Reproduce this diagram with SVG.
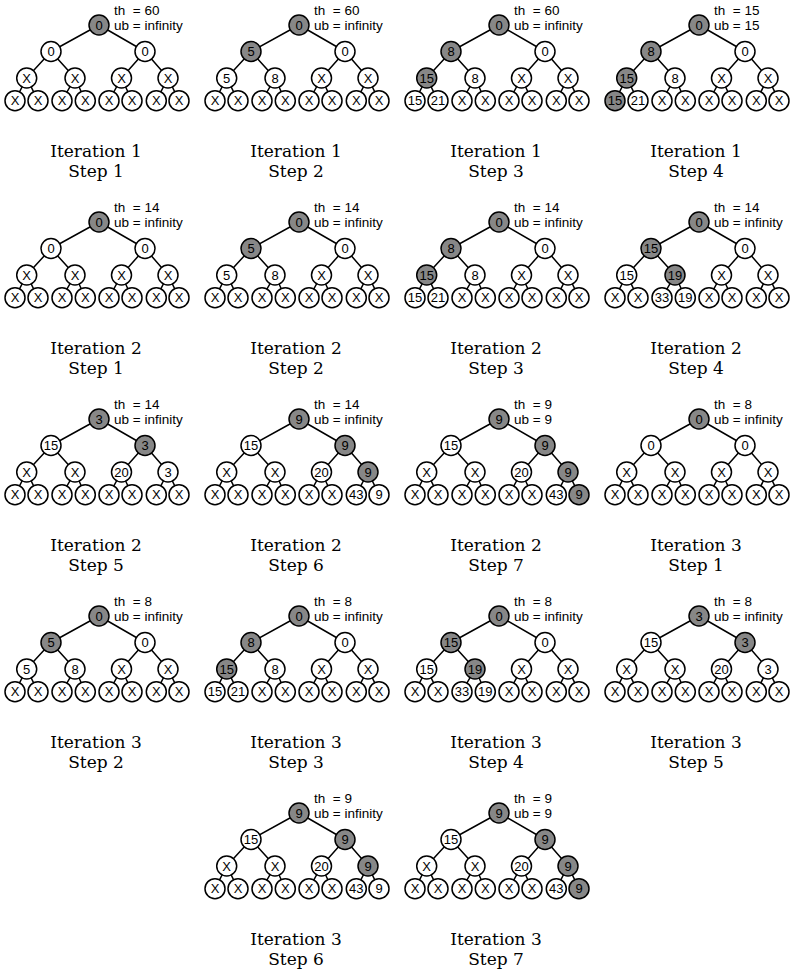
<svg xmlns="http://www.w3.org/2000/svg" xmlns:xlink="http://www.w3.org/1999/xlink" width="791" height="971" viewBox="0 0 791 971">
<style>
.e{stroke:#000;stroke-width:1.5;fill:none}
.n circle{fill:#fff;stroke:#000;stroke-width:1.5}
.g circle{fill:#878787}
.n text{font-family:'Liberation Sans',Arial,sans-serif;font-size:13px;text-anchor:middle;fill:#000}
.info{font-family:'Liberation Sans',Arial,sans-serif;font-size:13.5px;white-space:pre;fill:#000}
.cap{font-family:'DejaVu Serif',serif;font-size:17px;text-anchor:middle;fill:#000}
</style>
<defs>
<path id="edges" class="e" d="M99 25L51 51.5M99 25L145 51.5M51 51.5L26.7 78M51 51.5L75 78M145 51.5L121.5 78M145 51.5L168 78M26.7 78L15 100.7M26.7 78L38 100.7M75 78L62 100.7M75 78L85.3 100.7M121.5 78L109 100.7M121.5 78L132 100.7M168 78L156.3 100.7M168 78L179 100.7"/>
</defs>
<rect width="791" height="971" fill="#fff"/>
<g id="connectors">
<use xlink:href="#edges" transform="translate(0,0)"/>
<use xlink:href="#edges" transform="translate(200,0)"/>
<use xlink:href="#edges" transform="translate(400,0)"/>
<use xlink:href="#edges" transform="translate(600,0)"/>
<use xlink:href="#edges" transform="translate(0,197)"/>
<use xlink:href="#edges" transform="translate(200,197)"/>
<use xlink:href="#edges" transform="translate(400,197)"/>
<use xlink:href="#edges" transform="translate(600,197)"/>
<use xlink:href="#edges" transform="translate(0,394)"/>
<use xlink:href="#edges" transform="translate(200,394)"/>
<use xlink:href="#edges" transform="translate(400,394)"/>
<use xlink:href="#edges" transform="translate(600,394)"/>
<use xlink:href="#edges" transform="translate(0,591)"/>
<use xlink:href="#edges" transform="translate(200,591)"/>
<use xlink:href="#edges" transform="translate(400,591)"/>
<use xlink:href="#edges" transform="translate(600,591)"/>
<use xlink:href="#edges" transform="translate(200,788)"/>
<use xlink:href="#edges" transform="translate(400,788)"/>
</g>

<!-- Panel 1: Iteration 1 Step 1 -->
<g id="p1" transform="translate(0,0)">
<text class="info" x="114" y="14.5">th  = 60</text>
<text class="info" x="114" y="29.5">ub = infinity</text>
<g id="p1-n0" class="n g"><circle cx="99" cy="25" r="10"/><text x="99" y="29.6">0</text></g>
<g id="p1-n1" class="n"><circle cx="51" cy="51.5" r="10"/><text x="51" y="56.1">0</text></g>
<g id="p1-n2" class="n"><circle cx="145" cy="51.5" r="10"/><text x="145" y="56.1">0</text></g>
<g id="p1-n3" class="n"><circle cx="26.7" cy="78" r="10"/><text x="26.7" y="82.6">X</text></g>
<g id="p1-n4" class="n"><circle cx="75" cy="78" r="10"/><text x="75" y="82.6">X</text></g>
<g id="p1-n5" class="n"><circle cx="121.5" cy="78" r="10"/><text x="121.5" y="82.6">X</text></g>
<g id="p1-n6" class="n"><circle cx="168" cy="78" r="10"/><text x="168" y="82.6">X</text></g>
<g id="p1-l0" class="n"><circle cx="15" cy="100.7" r="10"/><text x="15" y="105.3">X</text></g>
<g id="p1-l1" class="n"><circle cx="38" cy="100.7" r="10"/><text x="38" y="105.3">X</text></g>
<g id="p1-l2" class="n"><circle cx="62" cy="100.7" r="10"/><text x="62" y="105.3">X</text></g>
<g id="p1-l3" class="n"><circle cx="85.3" cy="100.7" r="10"/><text x="85.3" y="105.3">X</text></g>
<g id="p1-l4" class="n"><circle cx="109" cy="100.7" r="10"/><text x="109" y="105.3">X</text></g>
<g id="p1-l5" class="n"><circle cx="132" cy="100.7" r="10"/><text x="132" y="105.3">X</text></g>
<g id="p1-l6" class="n"><circle cx="156.3" cy="100.7" r="10"/><text x="156.3" y="105.3">X</text></g>
<g id="p1-l7" class="n"><circle cx="179" cy="100.7" r="10"/><text x="179" y="105.3">X</text></g>
<text class="cap" x="96" y="156.7">Iteration 1</text>
<text class="cap" x="96" y="176.7">Step 1</text>
</g>

<!-- Panel 2: Iteration 1 Step 2 -->
<g id="p2" transform="translate(200,0)">
<text class="info" x="114" y="14.5">th  = 60</text>
<text class="info" x="114" y="29.5">ub = infinity</text>
<g id="p2-n0" class="n g"><circle cx="99" cy="25" r="10"/><text x="99" y="29.6">0</text></g>
<g id="p2-n1" class="n g"><circle cx="51" cy="51.5" r="10"/><text x="51" y="56.1">5</text></g>
<g id="p2-n2" class="n"><circle cx="145" cy="51.5" r="10"/><text x="145" y="56.1">0</text></g>
<g id="p2-n3" class="n"><circle cx="26.7" cy="78" r="10"/><text x="26.7" y="82.6">5</text></g>
<g id="p2-n4" class="n"><circle cx="75" cy="78" r="10"/><text x="75" y="82.6">8</text></g>
<g id="p2-n5" class="n"><circle cx="121.5" cy="78" r="10"/><text x="121.5" y="82.6">X</text></g>
<g id="p2-n6" class="n"><circle cx="168" cy="78" r="10"/><text x="168" y="82.6">X</text></g>
<g id="p2-l0" class="n"><circle cx="15" cy="100.7" r="10"/><text x="15" y="105.3">X</text></g>
<g id="p2-l1" class="n"><circle cx="38" cy="100.7" r="10"/><text x="38" y="105.3">X</text></g>
<g id="p2-l2" class="n"><circle cx="62" cy="100.7" r="10"/><text x="62" y="105.3">X</text></g>
<g id="p2-l3" class="n"><circle cx="85.3" cy="100.7" r="10"/><text x="85.3" y="105.3">X</text></g>
<g id="p2-l4" class="n"><circle cx="109" cy="100.7" r="10"/><text x="109" y="105.3">X</text></g>
<g id="p2-l5" class="n"><circle cx="132" cy="100.7" r="10"/><text x="132" y="105.3">X</text></g>
<g id="p2-l6" class="n"><circle cx="156.3" cy="100.7" r="10"/><text x="156.3" y="105.3">X</text></g>
<g id="p2-l7" class="n"><circle cx="179" cy="100.7" r="10"/><text x="179" y="105.3">X</text></g>
<text class="cap" x="96" y="156.7">Iteration 1</text>
<text class="cap" x="96" y="176.7">Step 2</text>
</g>

<!-- Panel 3: Iteration 1 Step 3 -->
<g id="p3" transform="translate(400,0)">
<text class="info" x="114" y="14.5">th  = 60</text>
<text class="info" x="114" y="29.5">ub = infinity</text>
<g id="p3-n0" class="n g"><circle cx="99" cy="25" r="10"/><text x="99" y="29.6">0</text></g>
<g id="p3-n1" class="n g"><circle cx="51" cy="51.5" r="10"/><text x="51" y="56.1">8</text></g>
<g id="p3-n2" class="n"><circle cx="145" cy="51.5" r="10"/><text x="145" y="56.1">0</text></g>
<g id="p3-n3" class="n g"><circle cx="26.7" cy="78" r="10"/><text x="26.7" y="82.6">15</text></g>
<g id="p3-n4" class="n"><circle cx="75" cy="78" r="10"/><text x="75" y="82.6">8</text></g>
<g id="p3-n5" class="n"><circle cx="121.5" cy="78" r="10"/><text x="121.5" y="82.6">X</text></g>
<g id="p3-n6" class="n"><circle cx="168" cy="78" r="10"/><text x="168" y="82.6">X</text></g>
<g id="p3-l0" class="n"><circle cx="15" cy="100.7" r="10"/><text x="15" y="105.3">15</text></g>
<g id="p3-l1" class="n"><circle cx="38" cy="100.7" r="10"/><text x="38" y="105.3">21</text></g>
<g id="p3-l2" class="n"><circle cx="62" cy="100.7" r="10"/><text x="62" y="105.3">X</text></g>
<g id="p3-l3" class="n"><circle cx="85.3" cy="100.7" r="10"/><text x="85.3" y="105.3">X</text></g>
<g id="p3-l4" class="n"><circle cx="109" cy="100.7" r="10"/><text x="109" y="105.3">X</text></g>
<g id="p3-l5" class="n"><circle cx="132" cy="100.7" r="10"/><text x="132" y="105.3">X</text></g>
<g id="p3-l6" class="n"><circle cx="156.3" cy="100.7" r="10"/><text x="156.3" y="105.3">X</text></g>
<g id="p3-l7" class="n"><circle cx="179" cy="100.7" r="10"/><text x="179" y="105.3">X</text></g>
<text class="cap" x="96" y="156.7">Iteration 1</text>
<text class="cap" x="96" y="176.7">Step 3</text>
</g>

<!-- Panel 4: Iteration 1 Step 4 -->
<g id="p4" transform="translate(600,0)">
<text class="info" x="114" y="14.5">th  = 15</text>
<text class="info" x="114" y="29.5">ub = 15</text>
<g id="p4-n0" class="n g"><circle cx="99" cy="25" r="10"/><text x="99" y="29.6">0</text></g>
<g id="p4-n1" class="n g"><circle cx="51" cy="51.5" r="10"/><text x="51" y="56.1">8</text></g>
<g id="p4-n2" class="n"><circle cx="145" cy="51.5" r="10"/><text x="145" y="56.1">0</text></g>
<g id="p4-n3" class="n g"><circle cx="26.7" cy="78" r="10"/><text x="26.7" y="82.6">15</text></g>
<g id="p4-n4" class="n"><circle cx="75" cy="78" r="10"/><text x="75" y="82.6">8</text></g>
<g id="p4-n5" class="n"><circle cx="121.5" cy="78" r="10"/><text x="121.5" y="82.6">X</text></g>
<g id="p4-n6" class="n"><circle cx="168" cy="78" r="10"/><text x="168" y="82.6">X</text></g>
<g id="p4-l0" class="n g"><circle cx="15" cy="100.7" r="10"/><text x="15" y="105.3">15</text></g>
<g id="p4-l1" class="n"><circle cx="38" cy="100.7" r="10"/><text x="38" y="105.3">21</text></g>
<g id="p4-l2" class="n"><circle cx="62" cy="100.7" r="10"/><text x="62" y="105.3">X</text></g>
<g id="p4-l3" class="n"><circle cx="85.3" cy="100.7" r="10"/><text x="85.3" y="105.3">X</text></g>
<g id="p4-l4" class="n"><circle cx="109" cy="100.7" r="10"/><text x="109" y="105.3">X</text></g>
<g id="p4-l5" class="n"><circle cx="132" cy="100.7" r="10"/><text x="132" y="105.3">X</text></g>
<g id="p4-l6" class="n"><circle cx="156.3" cy="100.7" r="10"/><text x="156.3" y="105.3">X</text></g>
<g id="p4-l7" class="n"><circle cx="179" cy="100.7" r="10"/><text x="179" y="105.3">X</text></g>
<text class="cap" x="96" y="156.7">Iteration 1</text>
<text class="cap" x="96" y="176.7">Step 4</text>
</g>

<!-- Panel 5: Iteration 2 Step 1 -->
<g id="p5" transform="translate(0,197)">
<text class="info" x="114" y="14.5">th  = 14</text>
<text class="info" x="114" y="29.5">ub = infinity</text>
<g id="p5-n0" class="n g"><circle cx="99" cy="25" r="10"/><text x="99" y="29.6">0</text></g>
<g id="p5-n1" class="n"><circle cx="51" cy="51.5" r="10"/><text x="51" y="56.1">0</text></g>
<g id="p5-n2" class="n"><circle cx="145" cy="51.5" r="10"/><text x="145" y="56.1">0</text></g>
<g id="p5-n3" class="n"><circle cx="26.7" cy="78" r="10"/><text x="26.7" y="82.6">X</text></g>
<g id="p5-n4" class="n"><circle cx="75" cy="78" r="10"/><text x="75" y="82.6">X</text></g>
<g id="p5-n5" class="n"><circle cx="121.5" cy="78" r="10"/><text x="121.5" y="82.6">X</text></g>
<g id="p5-n6" class="n"><circle cx="168" cy="78" r="10"/><text x="168" y="82.6">X</text></g>
<g id="p5-l0" class="n"><circle cx="15" cy="100.7" r="10"/><text x="15" y="105.3">X</text></g>
<g id="p5-l1" class="n"><circle cx="38" cy="100.7" r="10"/><text x="38" y="105.3">X</text></g>
<g id="p5-l2" class="n"><circle cx="62" cy="100.7" r="10"/><text x="62" y="105.3">X</text></g>
<g id="p5-l3" class="n"><circle cx="85.3" cy="100.7" r="10"/><text x="85.3" y="105.3">X</text></g>
<g id="p5-l4" class="n"><circle cx="109" cy="100.7" r="10"/><text x="109" y="105.3">X</text></g>
<g id="p5-l5" class="n"><circle cx="132" cy="100.7" r="10"/><text x="132" y="105.3">X</text></g>
<g id="p5-l6" class="n"><circle cx="156.3" cy="100.7" r="10"/><text x="156.3" y="105.3">X</text></g>
<g id="p5-l7" class="n"><circle cx="179" cy="100.7" r="10"/><text x="179" y="105.3">X</text></g>
<text class="cap" x="96" y="156.7">Iteration 2</text>
<text class="cap" x="96" y="176.7">Step 1</text>
</g>

<!-- Panel 6: Iteration 2 Step 2 -->
<g id="p6" transform="translate(200,197)">
<text class="info" x="114" y="14.5">th  = 14</text>
<text class="info" x="114" y="29.5">ub = infinity</text>
<g id="p6-n0" class="n g"><circle cx="99" cy="25" r="10"/><text x="99" y="29.6">0</text></g>
<g id="p6-n1" class="n g"><circle cx="51" cy="51.5" r="10"/><text x="51" y="56.1">5</text></g>
<g id="p6-n2" class="n"><circle cx="145" cy="51.5" r="10"/><text x="145" y="56.1">0</text></g>
<g id="p6-n3" class="n"><circle cx="26.7" cy="78" r="10"/><text x="26.7" y="82.6">5</text></g>
<g id="p6-n4" class="n"><circle cx="75" cy="78" r="10"/><text x="75" y="82.6">8</text></g>
<g id="p6-n5" class="n"><circle cx="121.5" cy="78" r="10"/><text x="121.5" y="82.6">X</text></g>
<g id="p6-n6" class="n"><circle cx="168" cy="78" r="10"/><text x="168" y="82.6">X</text></g>
<g id="p6-l0" class="n"><circle cx="15" cy="100.7" r="10"/><text x="15" y="105.3">X</text></g>
<g id="p6-l1" class="n"><circle cx="38" cy="100.7" r="10"/><text x="38" y="105.3">X</text></g>
<g id="p6-l2" class="n"><circle cx="62" cy="100.7" r="10"/><text x="62" y="105.3">X</text></g>
<g id="p6-l3" class="n"><circle cx="85.3" cy="100.7" r="10"/><text x="85.3" y="105.3">X</text></g>
<g id="p6-l4" class="n"><circle cx="109" cy="100.7" r="10"/><text x="109" y="105.3">X</text></g>
<g id="p6-l5" class="n"><circle cx="132" cy="100.7" r="10"/><text x="132" y="105.3">X</text></g>
<g id="p6-l6" class="n"><circle cx="156.3" cy="100.7" r="10"/><text x="156.3" y="105.3">X</text></g>
<g id="p6-l7" class="n"><circle cx="179" cy="100.7" r="10"/><text x="179" y="105.3">X</text></g>
<text class="cap" x="96" y="156.7">Iteration 2</text>
<text class="cap" x="96" y="176.7">Step 2</text>
</g>

<!-- Panel 7: Iteration 2 Step 3 -->
<g id="p7" transform="translate(400,197)">
<text class="info" x="114" y="14.5">th  = 14</text>
<text class="info" x="114" y="29.5">ub = infinity</text>
<g id="p7-n0" class="n g"><circle cx="99" cy="25" r="10"/><text x="99" y="29.6">0</text></g>
<g id="p7-n1" class="n g"><circle cx="51" cy="51.5" r="10"/><text x="51" y="56.1">8</text></g>
<g id="p7-n2" class="n"><circle cx="145" cy="51.5" r="10"/><text x="145" y="56.1">0</text></g>
<g id="p7-n3" class="n g"><circle cx="26.7" cy="78" r="10"/><text x="26.7" y="82.6">15</text></g>
<g id="p7-n4" class="n"><circle cx="75" cy="78" r="10"/><text x="75" y="82.6">8</text></g>
<g id="p7-n5" class="n"><circle cx="121.5" cy="78" r="10"/><text x="121.5" y="82.6">X</text></g>
<g id="p7-n6" class="n"><circle cx="168" cy="78" r="10"/><text x="168" y="82.6">X</text></g>
<g id="p7-l0" class="n"><circle cx="15" cy="100.7" r="10"/><text x="15" y="105.3">15</text></g>
<g id="p7-l1" class="n"><circle cx="38" cy="100.7" r="10"/><text x="38" y="105.3">21</text></g>
<g id="p7-l2" class="n"><circle cx="62" cy="100.7" r="10"/><text x="62" y="105.3">X</text></g>
<g id="p7-l3" class="n"><circle cx="85.3" cy="100.7" r="10"/><text x="85.3" y="105.3">X</text></g>
<g id="p7-l4" class="n"><circle cx="109" cy="100.7" r="10"/><text x="109" y="105.3">X</text></g>
<g id="p7-l5" class="n"><circle cx="132" cy="100.7" r="10"/><text x="132" y="105.3">X</text></g>
<g id="p7-l6" class="n"><circle cx="156.3" cy="100.7" r="10"/><text x="156.3" y="105.3">X</text></g>
<g id="p7-l7" class="n"><circle cx="179" cy="100.7" r="10"/><text x="179" y="105.3">X</text></g>
<text class="cap" x="96" y="156.7">Iteration 2</text>
<text class="cap" x="96" y="176.7">Step 3</text>
</g>

<!-- Panel 8: Iteration 2 Step 4 -->
<g id="p8" transform="translate(600,197)">
<text class="info" x="114" y="14.5">th  = 14</text>
<text class="info" x="114" y="29.5">ub = infinity</text>
<g id="p8-n0" class="n g"><circle cx="99" cy="25" r="10"/><text x="99" y="29.6">0</text></g>
<g id="p8-n1" class="n g"><circle cx="51" cy="51.5" r="10"/><text x="51" y="56.1">15</text></g>
<g id="p8-n2" class="n"><circle cx="145" cy="51.5" r="10"/><text x="145" y="56.1">0</text></g>
<g id="p8-n3" class="n"><circle cx="26.7" cy="78" r="10"/><text x="26.7" y="82.6">15</text></g>
<g id="p8-n4" class="n g"><circle cx="75" cy="78" r="10"/><text x="75" y="82.6">19</text></g>
<g id="p8-n5" class="n"><circle cx="121.5" cy="78" r="10"/><text x="121.5" y="82.6">X</text></g>
<g id="p8-n6" class="n"><circle cx="168" cy="78" r="10"/><text x="168" y="82.6">X</text></g>
<g id="p8-l0" class="n"><circle cx="15" cy="100.7" r="10"/><text x="15" y="105.3">X</text></g>
<g id="p8-l1" class="n"><circle cx="38" cy="100.7" r="10"/><text x="38" y="105.3">X</text></g>
<g id="p8-l2" class="n"><circle cx="62" cy="100.7" r="10"/><text x="62" y="105.3">33</text></g>
<g id="p8-l3" class="n"><circle cx="85.3" cy="100.7" r="10"/><text x="85.3" y="105.3">19</text></g>
<g id="p8-l4" class="n"><circle cx="109" cy="100.7" r="10"/><text x="109" y="105.3">X</text></g>
<g id="p8-l5" class="n"><circle cx="132" cy="100.7" r="10"/><text x="132" y="105.3">X</text></g>
<g id="p8-l6" class="n"><circle cx="156.3" cy="100.7" r="10"/><text x="156.3" y="105.3">X</text></g>
<g id="p8-l7" class="n"><circle cx="179" cy="100.7" r="10"/><text x="179" y="105.3">X</text></g>
<text class="cap" x="96" y="156.7">Iteration 2</text>
<text class="cap" x="96" y="176.7">Step 4</text>
</g>

<!-- Panel 9: Iteration 2 Step 5 -->
<g id="p9" transform="translate(0,394)">
<text class="info" x="114" y="14.5">th  = 14</text>
<text class="info" x="114" y="29.5">ub = infinity</text>
<g id="p9-n0" class="n g"><circle cx="99" cy="25" r="10"/><text x="99" y="29.6">3</text></g>
<g id="p9-n1" class="n"><circle cx="51" cy="51.5" r="10"/><text x="51" y="56.1">15</text></g>
<g id="p9-n2" class="n g"><circle cx="145" cy="51.5" r="10"/><text x="145" y="56.1">3</text></g>
<g id="p9-n3" class="n"><circle cx="26.7" cy="78" r="10"/><text x="26.7" y="82.6">X</text></g>
<g id="p9-n4" class="n"><circle cx="75" cy="78" r="10"/><text x="75" y="82.6">X</text></g>
<g id="p9-n5" class="n"><circle cx="121.5" cy="78" r="10"/><text x="121.5" y="82.6">20</text></g>
<g id="p9-n6" class="n"><circle cx="168" cy="78" r="10"/><text x="168" y="82.6">3</text></g>
<g id="p9-l0" class="n"><circle cx="15" cy="100.7" r="10"/><text x="15" y="105.3">X</text></g>
<g id="p9-l1" class="n"><circle cx="38" cy="100.7" r="10"/><text x="38" y="105.3">X</text></g>
<g id="p9-l2" class="n"><circle cx="62" cy="100.7" r="10"/><text x="62" y="105.3">X</text></g>
<g id="p9-l3" class="n"><circle cx="85.3" cy="100.7" r="10"/><text x="85.3" y="105.3">X</text></g>
<g id="p9-l4" class="n"><circle cx="109" cy="100.7" r="10"/><text x="109" y="105.3">X</text></g>
<g id="p9-l5" class="n"><circle cx="132" cy="100.7" r="10"/><text x="132" y="105.3">X</text></g>
<g id="p9-l6" class="n"><circle cx="156.3" cy="100.7" r="10"/><text x="156.3" y="105.3">X</text></g>
<g id="p9-l7" class="n"><circle cx="179" cy="100.7" r="10"/><text x="179" y="105.3">X</text></g>
<text class="cap" x="96" y="156.7">Iteration 2</text>
<text class="cap" x="96" y="176.7">Step 5</text>
</g>

<!-- Panel 10: Iteration 2 Step 6 -->
<g id="p10" transform="translate(200,394)">
<text class="info" x="114" y="14.5">th  = 14</text>
<text class="info" x="114" y="29.5">ub = infinity</text>
<g id="p10-n0" class="n g"><circle cx="99" cy="25" r="10"/><text x="99" y="29.6">9</text></g>
<g id="p10-n1" class="n"><circle cx="51" cy="51.5" r="10"/><text x="51" y="56.1">15</text></g>
<g id="p10-n2" class="n g"><circle cx="145" cy="51.5" r="10"/><text x="145" y="56.1">9</text></g>
<g id="p10-n3" class="n"><circle cx="26.7" cy="78" r="10"/><text x="26.7" y="82.6">X</text></g>
<g id="p10-n4" class="n"><circle cx="75" cy="78" r="10"/><text x="75" y="82.6">X</text></g>
<g id="p10-n5" class="n"><circle cx="121.5" cy="78" r="10"/><text x="121.5" y="82.6">20</text></g>
<g id="p10-n6" class="n g"><circle cx="168" cy="78" r="10"/><text x="168" y="82.6">9</text></g>
<g id="p10-l0" class="n"><circle cx="15" cy="100.7" r="10"/><text x="15" y="105.3">X</text></g>
<g id="p10-l1" class="n"><circle cx="38" cy="100.7" r="10"/><text x="38" y="105.3">X</text></g>
<g id="p10-l2" class="n"><circle cx="62" cy="100.7" r="10"/><text x="62" y="105.3">X</text></g>
<g id="p10-l3" class="n"><circle cx="85.3" cy="100.7" r="10"/><text x="85.3" y="105.3">X</text></g>
<g id="p10-l4" class="n"><circle cx="109" cy="100.7" r="10"/><text x="109" y="105.3">X</text></g>
<g id="p10-l5" class="n"><circle cx="132" cy="100.7" r="10"/><text x="132" y="105.3">X</text></g>
<g id="p10-l6" class="n"><circle cx="156.3" cy="100.7" r="10"/><text x="156.3" y="105.3">43</text></g>
<g id="p10-l7" class="n"><circle cx="179" cy="100.7" r="10"/><text x="179" y="105.3">9</text></g>
<text class="cap" x="96" y="156.7">Iteration 2</text>
<text class="cap" x="96" y="176.7">Step 6</text>
</g>

<!-- Panel 11: Iteration 2 Step 7 -->
<g id="p11" transform="translate(400,394)">
<text class="info" x="114" y="14.5">th  = 9</text>
<text class="info" x="114" y="29.5">ub = 9</text>
<g id="p11-n0" class="n g"><circle cx="99" cy="25" r="10"/><text x="99" y="29.6">9</text></g>
<g id="p11-n1" class="n"><circle cx="51" cy="51.5" r="10"/><text x="51" y="56.1">15</text></g>
<g id="p11-n2" class="n g"><circle cx="145" cy="51.5" r="10"/><text x="145" y="56.1">9</text></g>
<g id="p11-n3" class="n"><circle cx="26.7" cy="78" r="10"/><text x="26.7" y="82.6">X</text></g>
<g id="p11-n4" class="n"><circle cx="75" cy="78" r="10"/><text x="75" y="82.6">X</text></g>
<g id="p11-n5" class="n"><circle cx="121.5" cy="78" r="10"/><text x="121.5" y="82.6">20</text></g>
<g id="p11-n6" class="n g"><circle cx="168" cy="78" r="10"/><text x="168" y="82.6">9</text></g>
<g id="p11-l0" class="n"><circle cx="15" cy="100.7" r="10"/><text x="15" y="105.3">X</text></g>
<g id="p11-l1" class="n"><circle cx="38" cy="100.7" r="10"/><text x="38" y="105.3">X</text></g>
<g id="p11-l2" class="n"><circle cx="62" cy="100.7" r="10"/><text x="62" y="105.3">X</text></g>
<g id="p11-l3" class="n"><circle cx="85.3" cy="100.7" r="10"/><text x="85.3" y="105.3">X</text></g>
<g id="p11-l4" class="n"><circle cx="109" cy="100.7" r="10"/><text x="109" y="105.3">X</text></g>
<g id="p11-l5" class="n"><circle cx="132" cy="100.7" r="10"/><text x="132" y="105.3">X</text></g>
<g id="p11-l6" class="n"><circle cx="156.3" cy="100.7" r="10"/><text x="156.3" y="105.3">43</text></g>
<g id="p11-l7" class="n g"><circle cx="179" cy="100.7" r="10"/><text x="179" y="105.3">9</text></g>
<text class="cap" x="96" y="156.7">Iteration 2</text>
<text class="cap" x="96" y="176.7">Step 7</text>
</g>

<!-- Panel 12: Iteration 3 Step 1 -->
<g id="p12" transform="translate(600,394)">
<text class="info" x="114" y="14.5">th  = 8</text>
<text class="info" x="114" y="29.5">ub = infinity</text>
<g id="p12-n0" class="n g"><circle cx="99" cy="25" r="10"/><text x="99" y="29.6">0</text></g>
<g id="p12-n1" class="n"><circle cx="51" cy="51.5" r="10"/><text x="51" y="56.1">0</text></g>
<g id="p12-n2" class="n"><circle cx="145" cy="51.5" r="10"/><text x="145" y="56.1">0</text></g>
<g id="p12-n3" class="n"><circle cx="26.7" cy="78" r="10"/><text x="26.7" y="82.6">X</text></g>
<g id="p12-n4" class="n"><circle cx="75" cy="78" r="10"/><text x="75" y="82.6">X</text></g>
<g id="p12-n5" class="n"><circle cx="121.5" cy="78" r="10"/><text x="121.5" y="82.6">X</text></g>
<g id="p12-n6" class="n"><circle cx="168" cy="78" r="10"/><text x="168" y="82.6">X</text></g>
<g id="p12-l0" class="n"><circle cx="15" cy="100.7" r="10"/><text x="15" y="105.3">X</text></g>
<g id="p12-l1" class="n"><circle cx="38" cy="100.7" r="10"/><text x="38" y="105.3">X</text></g>
<g id="p12-l2" class="n"><circle cx="62" cy="100.7" r="10"/><text x="62" y="105.3">X</text></g>
<g id="p12-l3" class="n"><circle cx="85.3" cy="100.7" r="10"/><text x="85.3" y="105.3">X</text></g>
<g id="p12-l4" class="n"><circle cx="109" cy="100.7" r="10"/><text x="109" y="105.3">X</text></g>
<g id="p12-l5" class="n"><circle cx="132" cy="100.7" r="10"/><text x="132" y="105.3">X</text></g>
<g id="p12-l6" class="n"><circle cx="156.3" cy="100.7" r="10"/><text x="156.3" y="105.3">X</text></g>
<g id="p12-l7" class="n"><circle cx="179" cy="100.7" r="10"/><text x="179" y="105.3">X</text></g>
<text class="cap" x="96" y="156.7">Iteration 3</text>
<text class="cap" x="96" y="176.7">Step 1</text>
</g>

<!-- Panel 13: Iteration 3 Step 2 -->
<g id="p13" transform="translate(0,591)">
<text class="info" x="114" y="14.5">th  = 8</text>
<text class="info" x="114" y="29.5">ub = infinity</text>
<g id="p13-n0" class="n g"><circle cx="99" cy="25" r="10"/><text x="99" y="29.6">0</text></g>
<g id="p13-n1" class="n g"><circle cx="51" cy="51.5" r="10"/><text x="51" y="56.1">5</text></g>
<g id="p13-n2" class="n"><circle cx="145" cy="51.5" r="10"/><text x="145" y="56.1">0</text></g>
<g id="p13-n3" class="n"><circle cx="26.7" cy="78" r="10"/><text x="26.7" y="82.6">5</text></g>
<g id="p13-n4" class="n"><circle cx="75" cy="78" r="10"/><text x="75" y="82.6">8</text></g>
<g id="p13-n5" class="n"><circle cx="121.5" cy="78" r="10"/><text x="121.5" y="82.6">X</text></g>
<g id="p13-n6" class="n"><circle cx="168" cy="78" r="10"/><text x="168" y="82.6">X</text></g>
<g id="p13-l0" class="n"><circle cx="15" cy="100.7" r="10"/><text x="15" y="105.3">X</text></g>
<g id="p13-l1" class="n"><circle cx="38" cy="100.7" r="10"/><text x="38" y="105.3">X</text></g>
<g id="p13-l2" class="n"><circle cx="62" cy="100.7" r="10"/><text x="62" y="105.3">X</text></g>
<g id="p13-l3" class="n"><circle cx="85.3" cy="100.7" r="10"/><text x="85.3" y="105.3">X</text></g>
<g id="p13-l4" class="n"><circle cx="109" cy="100.7" r="10"/><text x="109" y="105.3">X</text></g>
<g id="p13-l5" class="n"><circle cx="132" cy="100.7" r="10"/><text x="132" y="105.3">X</text></g>
<g id="p13-l6" class="n"><circle cx="156.3" cy="100.7" r="10"/><text x="156.3" y="105.3">X</text></g>
<g id="p13-l7" class="n"><circle cx="179" cy="100.7" r="10"/><text x="179" y="105.3">X</text></g>
<text class="cap" x="96" y="156.7">Iteration 3</text>
<text class="cap" x="96" y="176.7">Step 2</text>
</g>

<!-- Panel 14: Iteration 3 Step 3 -->
<g id="p14" transform="translate(200,591)">
<text class="info" x="114" y="14.5">th  = 8</text>
<text class="info" x="114" y="29.5">ub = infinity</text>
<g id="p14-n0" class="n g"><circle cx="99" cy="25" r="10"/><text x="99" y="29.6">0</text></g>
<g id="p14-n1" class="n g"><circle cx="51" cy="51.5" r="10"/><text x="51" y="56.1">8</text></g>
<g id="p14-n2" class="n"><circle cx="145" cy="51.5" r="10"/><text x="145" y="56.1">0</text></g>
<g id="p14-n3" class="n g"><circle cx="26.7" cy="78" r="10"/><text x="26.7" y="82.6">15</text></g>
<g id="p14-n4" class="n"><circle cx="75" cy="78" r="10"/><text x="75" y="82.6">8</text></g>
<g id="p14-n5" class="n"><circle cx="121.5" cy="78" r="10"/><text x="121.5" y="82.6">X</text></g>
<g id="p14-n6" class="n"><circle cx="168" cy="78" r="10"/><text x="168" y="82.6">X</text></g>
<g id="p14-l0" class="n"><circle cx="15" cy="100.7" r="10"/><text x="15" y="105.3">15</text></g>
<g id="p14-l1" class="n"><circle cx="38" cy="100.7" r="10"/><text x="38" y="105.3">21</text></g>
<g id="p14-l2" class="n"><circle cx="62" cy="100.7" r="10"/><text x="62" y="105.3">X</text></g>
<g id="p14-l3" class="n"><circle cx="85.3" cy="100.7" r="10"/><text x="85.3" y="105.3">X</text></g>
<g id="p14-l4" class="n"><circle cx="109" cy="100.7" r="10"/><text x="109" y="105.3">X</text></g>
<g id="p14-l5" class="n"><circle cx="132" cy="100.7" r="10"/><text x="132" y="105.3">X</text></g>
<g id="p14-l6" class="n"><circle cx="156.3" cy="100.7" r="10"/><text x="156.3" y="105.3">X</text></g>
<g id="p14-l7" class="n"><circle cx="179" cy="100.7" r="10"/><text x="179" y="105.3">X</text></g>
<text class="cap" x="96" y="156.7">Iteration 3</text>
<text class="cap" x="96" y="176.7">Step 3</text>
</g>

<!-- Panel 15: Iteration 3 Step 4 -->
<g id="p15" transform="translate(400,591)">
<text class="info" x="114" y="14.5">th  = 8</text>
<text class="info" x="114" y="29.5">ub = infinity</text>
<g id="p15-n0" class="n g"><circle cx="99" cy="25" r="10"/><text x="99" y="29.6">0</text></g>
<g id="p15-n1" class="n g"><circle cx="51" cy="51.5" r="10"/><text x="51" y="56.1">15</text></g>
<g id="p15-n2" class="n"><circle cx="145" cy="51.5" r="10"/><text x="145" y="56.1">0</text></g>
<g id="p15-n3" class="n"><circle cx="26.7" cy="78" r="10"/><text x="26.7" y="82.6">15</text></g>
<g id="p15-n4" class="n g"><circle cx="75" cy="78" r="10"/><text x="75" y="82.6">19</text></g>
<g id="p15-n5" class="n"><circle cx="121.5" cy="78" r="10"/><text x="121.5" y="82.6">X</text></g>
<g id="p15-n6" class="n"><circle cx="168" cy="78" r="10"/><text x="168" y="82.6">X</text></g>
<g id="p15-l0" class="n"><circle cx="15" cy="100.7" r="10"/><text x="15" y="105.3">X</text></g>
<g id="p15-l1" class="n"><circle cx="38" cy="100.7" r="10"/><text x="38" y="105.3">X</text></g>
<g id="p15-l2" class="n"><circle cx="62" cy="100.7" r="10"/><text x="62" y="105.3">33</text></g>
<g id="p15-l3" class="n"><circle cx="85.3" cy="100.7" r="10"/><text x="85.3" y="105.3">19</text></g>
<g id="p15-l4" class="n"><circle cx="109" cy="100.7" r="10"/><text x="109" y="105.3">X</text></g>
<g id="p15-l5" class="n"><circle cx="132" cy="100.7" r="10"/><text x="132" y="105.3">X</text></g>
<g id="p15-l6" class="n"><circle cx="156.3" cy="100.7" r="10"/><text x="156.3" y="105.3">X</text></g>
<g id="p15-l7" class="n"><circle cx="179" cy="100.7" r="10"/><text x="179" y="105.3">X</text></g>
<text class="cap" x="96" y="156.7">Iteration 3</text>
<text class="cap" x="96" y="176.7">Step 4</text>
</g>

<!-- Panel 16: Iteration 3 Step 5 -->
<g id="p16" transform="translate(600,591)">
<text class="info" x="114" y="14.5">th  = 8</text>
<text class="info" x="114" y="29.5">ub = infinity</text>
<g id="p16-n0" class="n g"><circle cx="99" cy="25" r="10"/><text x="99" y="29.6">3</text></g>
<g id="p16-n1" class="n"><circle cx="51" cy="51.5" r="10"/><text x="51" y="56.1">15</text></g>
<g id="p16-n2" class="n g"><circle cx="145" cy="51.5" r="10"/><text x="145" y="56.1">3</text></g>
<g id="p16-n3" class="n"><circle cx="26.7" cy="78" r="10"/><text x="26.7" y="82.6">X</text></g>
<g id="p16-n4" class="n"><circle cx="75" cy="78" r="10"/><text x="75" y="82.6">X</text></g>
<g id="p16-n5" class="n"><circle cx="121.5" cy="78" r="10"/><text x="121.5" y="82.6">20</text></g>
<g id="p16-n6" class="n"><circle cx="168" cy="78" r="10"/><text x="168" y="82.6">3</text></g>
<g id="p16-l0" class="n"><circle cx="15" cy="100.7" r="10"/><text x="15" y="105.3">X</text></g>
<g id="p16-l1" class="n"><circle cx="38" cy="100.7" r="10"/><text x="38" y="105.3">X</text></g>
<g id="p16-l2" class="n"><circle cx="62" cy="100.7" r="10"/><text x="62" y="105.3">X</text></g>
<g id="p16-l3" class="n"><circle cx="85.3" cy="100.7" r="10"/><text x="85.3" y="105.3">X</text></g>
<g id="p16-l4" class="n"><circle cx="109" cy="100.7" r="10"/><text x="109" y="105.3">X</text></g>
<g id="p16-l5" class="n"><circle cx="132" cy="100.7" r="10"/><text x="132" y="105.3">X</text></g>
<g id="p16-l6" class="n"><circle cx="156.3" cy="100.7" r="10"/><text x="156.3" y="105.3">X</text></g>
<g id="p16-l7" class="n"><circle cx="179" cy="100.7" r="10"/><text x="179" y="105.3">X</text></g>
<text class="cap" x="96" y="156.7">Iteration 3</text>
<text class="cap" x="96" y="176.7">Step 5</text>
</g>

<!-- Panel 17: Iteration 3 Step 6 -->
<g id="p17" transform="translate(200,788)">
<text class="info" x="114" y="14.5">th  = 9</text>
<text class="info" x="114" y="29.5">ub = infinity</text>
<g id="p17-n0" class="n g"><circle cx="99" cy="25" r="10"/><text x="99" y="29.6">9</text></g>
<g id="p17-n1" class="n"><circle cx="51" cy="51.5" r="10"/><text x="51" y="56.1">15</text></g>
<g id="p17-n2" class="n g"><circle cx="145" cy="51.5" r="10"/><text x="145" y="56.1">9</text></g>
<g id="p17-n3" class="n"><circle cx="26.7" cy="78" r="10"/><text x="26.7" y="82.6">X</text></g>
<g id="p17-n4" class="n"><circle cx="75" cy="78" r="10"/><text x="75" y="82.6">X</text></g>
<g id="p17-n5" class="n"><circle cx="121.5" cy="78" r="10"/><text x="121.5" y="82.6">20</text></g>
<g id="p17-n6" class="n g"><circle cx="168" cy="78" r="10"/><text x="168" y="82.6">9</text></g>
<g id="p17-l0" class="n"><circle cx="15" cy="100.7" r="10"/><text x="15" y="105.3">X</text></g>
<g id="p17-l1" class="n"><circle cx="38" cy="100.7" r="10"/><text x="38" y="105.3">X</text></g>
<g id="p17-l2" class="n"><circle cx="62" cy="100.7" r="10"/><text x="62" y="105.3">X</text></g>
<g id="p17-l3" class="n"><circle cx="85.3" cy="100.7" r="10"/><text x="85.3" y="105.3">X</text></g>
<g id="p17-l4" class="n"><circle cx="109" cy="100.7" r="10"/><text x="109" y="105.3">X</text></g>
<g id="p17-l5" class="n"><circle cx="132" cy="100.7" r="10"/><text x="132" y="105.3">X</text></g>
<g id="p17-l6" class="n"><circle cx="156.3" cy="100.7" r="10"/><text x="156.3" y="105.3">43</text></g>
<g id="p17-l7" class="n"><circle cx="179" cy="100.7" r="10"/><text x="179" y="105.3">9</text></g>
<text class="cap" x="96" y="156.7">Iteration 3</text>
<text class="cap" x="96" y="176.7">Step 6</text>
</g>

<!-- Panel 18: Iteration 3 Step 7 -->
<g id="p18" transform="translate(400,788)">
<text class="info" x="114" y="14.5">th  = 9</text>
<text class="info" x="114" y="29.5">ub = 9</text>
<g id="p18-n0" class="n g"><circle cx="99" cy="25" r="10"/><text x="99" y="29.6">9</text></g>
<g id="p18-n1" class="n"><circle cx="51" cy="51.5" r="10"/><text x="51" y="56.1">15</text></g>
<g id="p18-n2" class="n g"><circle cx="145" cy="51.5" r="10"/><text x="145" y="56.1">9</text></g>
<g id="p18-n3" class="n"><circle cx="26.7" cy="78" r="10"/><text x="26.7" y="82.6">X</text></g>
<g id="p18-n4" class="n"><circle cx="75" cy="78" r="10"/><text x="75" y="82.6">X</text></g>
<g id="p18-n5" class="n"><circle cx="121.5" cy="78" r="10"/><text x="121.5" y="82.6">20</text></g>
<g id="p18-n6" class="n g"><circle cx="168" cy="78" r="10"/><text x="168" y="82.6">9</text></g>
<g id="p18-l0" class="n"><circle cx="15" cy="100.7" r="10"/><text x="15" y="105.3">X</text></g>
<g id="p18-l1" class="n"><circle cx="38" cy="100.7" r="10"/><text x="38" y="105.3">X</text></g>
<g id="p18-l2" class="n"><circle cx="62" cy="100.7" r="10"/><text x="62" y="105.3">X</text></g>
<g id="p18-l3" class="n"><circle cx="85.3" cy="100.7" r="10"/><text x="85.3" y="105.3">X</text></g>
<g id="p18-l4" class="n"><circle cx="109" cy="100.7" r="10"/><text x="109" y="105.3">X</text></g>
<g id="p18-l5" class="n"><circle cx="132" cy="100.7" r="10"/><text x="132" y="105.3">X</text></g>
<g id="p18-l6" class="n"><circle cx="156.3" cy="100.7" r="10"/><text x="156.3" y="105.3">43</text></g>
<g id="p18-l7" class="n g"><circle cx="179" cy="100.7" r="10"/><text x="179" y="105.3">9</text></g>
<text class="cap" x="96" y="156.7">Iteration 3</text>
<text class="cap" x="96" y="176.7">Step 7</text>
</g>
</svg>
